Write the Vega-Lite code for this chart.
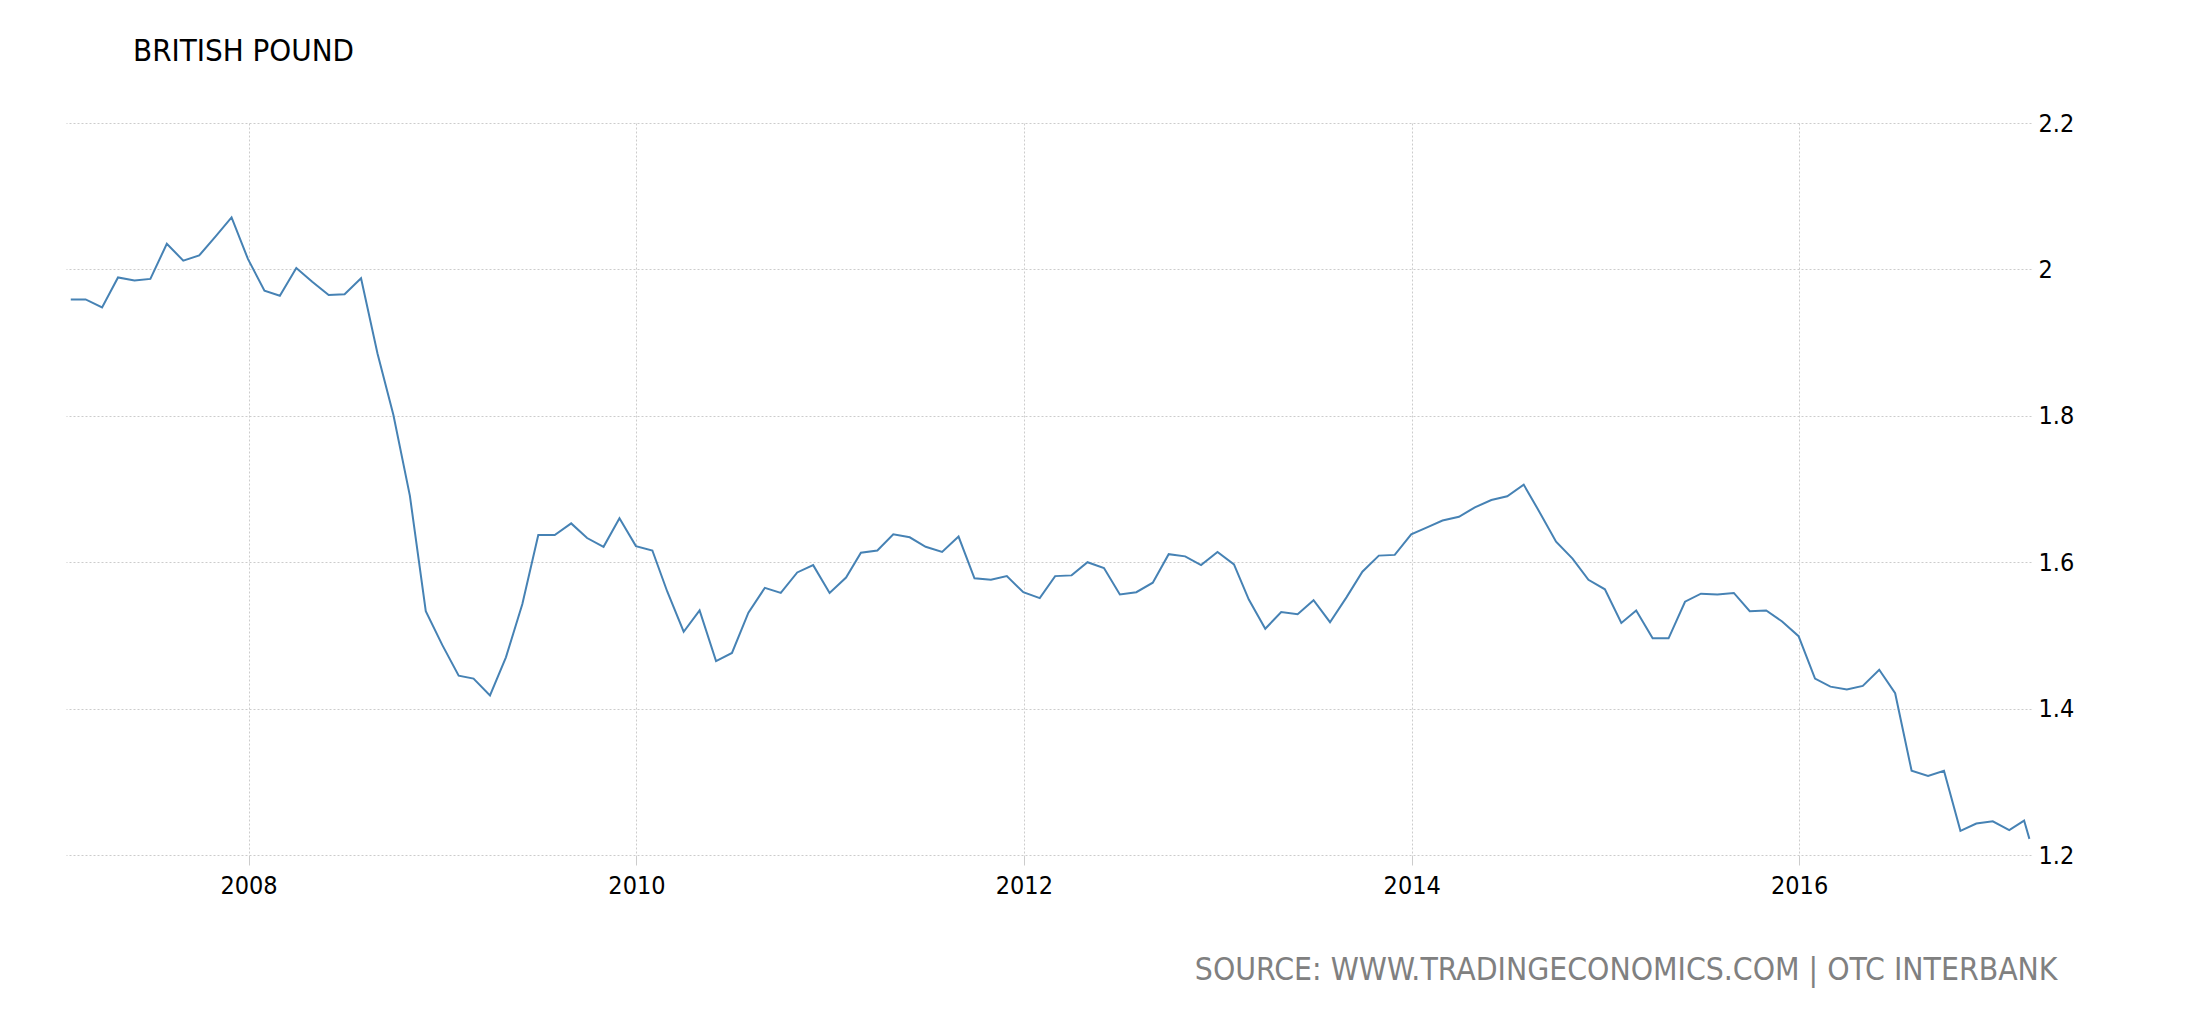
{
  "$schema": "https://vega.github.io/schema/vega-lite/v6.json",
  "autosize": {"type": "none"},
  "padding": {"left": 66, "top": 123, "right": 159, "bottom": 165},
  "width": 1965,
  "height": 732,
  "background": "white",
  "title": {
    "text": "BRITISH POUND",
    "anchor": "start",
    "dx": 67,
    "offset": 19,
    "baseline": "alphabetic",
    "font": "DejaVu Sans Condensed, DejaVu Sans",
    "fontSize": 31,
    "fontWeight": "normal",
    "color": "#000000"
  },
  "config": {
    "view": {"stroke": null},
    "font": "DejaVu Sans Condensed, DejaVu Sans"
  },
  "data": {
    "values": [
      {"date": "2007-01-31", "value": 1.959},
      {"date": "2007-02-28", "value": 1.959},
      {"date": "2007-03-31", "value": 1.948},
      {"date": "2007-04-30", "value": 1.989},
      {"date": "2007-05-31", "value": 1.985},
      {"date": "2007-06-30", "value": 1.987},
      {"date": "2007-07-31", "value": 2.035},
      {"date": "2007-08-31", "value": 2.012},
      {"date": "2007-09-30", "value": 2.019},
      {"date": "2007-10-31", "value": 2.045},
      {"date": "2007-11-30", "value": 2.071},
      {"date": "2007-12-31", "value": 2.014},
      {"date": "2008-01-31", "value": 1.971},
      {"date": "2008-02-29", "value": 1.964},
      {"date": "2008-03-31", "value": 2.002},
      {"date": "2008-04-30", "value": 1.983},
      {"date": "2008-05-31", "value": 1.965},
      {"date": "2008-06-30", "value": 1.966},
      {"date": "2008-07-31", "value": 1.988},
      {"date": "2008-08-31", "value": 1.885},
      {"date": "2008-09-30", "value": 1.801},
      {"date": "2008-10-31", "value": 1.691},
      {"date": "2008-11-30", "value": 1.533},
      {"date": "2008-12-31", "value": 1.487},
      {"date": "2009-01-31", "value": 1.445},
      {"date": "2009-02-28", "value": 1.441},
      {"date": "2009-03-31", "value": 1.418},
      {"date": "2009-04-30", "value": 1.470},
      {"date": "2009-05-31", "value": 1.543},
      {"date": "2009-06-30", "value": 1.637},
      {"date": "2009-07-31", "value": 1.637},
      {"date": "2009-08-31", "value": 1.653},
      {"date": "2009-09-30", "value": 1.633},
      {"date": "2009-10-31", "value": 1.621},
      {"date": "2009-11-30", "value": 1.660},
      {"date": "2009-12-31", "value": 1.622},
      {"date": "2010-01-31", "value": 1.616},
      {"date": "2010-02-28", "value": 1.560},
      {"date": "2010-03-31", "value": 1.505},
      {"date": "2010-04-30", "value": 1.534},
      {"date": "2010-05-31", "value": 1.465},
      {"date": "2010-06-30", "value": 1.476},
      {"date": "2010-07-31", "value": 1.531},
      {"date": "2010-08-31", "value": 1.565},
      {"date": "2010-09-30", "value": 1.558},
      {"date": "2010-10-31", "value": 1.586},
      {"date": "2010-11-30", "value": 1.596},
      {"date": "2010-12-31", "value": 1.558},
      {"date": "2011-01-31", "value": 1.579},
      {"date": "2011-02-28", "value": 1.613},
      {"date": "2011-03-31", "value": 1.616},
      {"date": "2011-04-30", "value": 1.638},
      {"date": "2011-05-31", "value": 1.634},
      {"date": "2011-06-30", "value": 1.621},
      {"date": "2011-07-31", "value": 1.614},
      {"date": "2011-08-31", "value": 1.635},
      {"date": "2011-09-30", "value": 1.578},
      {"date": "2011-10-31", "value": 1.576},
      {"date": "2011-11-30", "value": 1.581},
      {"date": "2011-12-31", "value": 1.559},
      {"date": "2012-01-31", "value": 1.551},
      {"date": "2012-02-29", "value": 1.581},
      {"date": "2012-03-31", "value": 1.582},
      {"date": "2012-04-30", "value": 1.600},
      {"date": "2012-05-31", "value": 1.592},
      {"date": "2012-06-30", "value": 1.556},
      {"date": "2012-07-31", "value": 1.559},
      {"date": "2012-08-31", "value": 1.572},
      {"date": "2012-09-30", "value": 1.611},
      {"date": "2012-10-31", "value": 1.608},
      {"date": "2012-11-30", "value": 1.596},
      {"date": "2012-12-31", "value": 1.614},
      {"date": "2013-01-31", "value": 1.597},
      {"date": "2013-02-28", "value": 1.549},
      {"date": "2013-03-31", "value": 1.509},
      {"date": "2013-04-30", "value": 1.532},
      {"date": "2013-05-31", "value": 1.529},
      {"date": "2013-06-30", "value": 1.548},
      {"date": "2013-07-31", "value": 1.518},
      {"date": "2013-08-31", "value": 1.552},
      {"date": "2013-09-30", "value": 1.587},
      {"date": "2013-10-31", "value": 1.609},
      {"date": "2013-11-30", "value": 1.610},
      {"date": "2013-12-31", "value": 1.638},
      {"date": "2014-01-31", "value": 1.648},
      {"date": "2014-02-28", "value": 1.657},
      {"date": "2014-03-31", "value": 1.662},
      {"date": "2014-04-30", "value": 1.675},
      {"date": "2014-05-31", "value": 1.685},
      {"date": "2014-06-30", "value": 1.690},
      {"date": "2014-07-31", "value": 1.706},
      {"date": "2014-08-31", "value": 1.667},
      {"date": "2014-09-30", "value": 1.628},
      {"date": "2014-10-31", "value": 1.605},
      {"date": "2014-11-30", "value": 1.576},
      {"date": "2014-12-31", "value": 1.563},
      {"date": "2015-01-31", "value": 1.517},
      {"date": "2015-02-28", "value": 1.534},
      {"date": "2015-03-31", "value": 1.496},
      {"date": "2015-04-30", "value": 1.496},
      {"date": "2015-05-31", "value": 1.546},
      {"date": "2015-06-30", "value": 1.557},
      {"date": "2015-07-31", "value": 1.556},
      {"date": "2015-08-31", "value": 1.558},
      {"date": "2015-09-30", "value": 1.533},
      {"date": "2015-10-31", "value": 1.534},
      {"date": "2015-11-30", "value": 1.519},
      {"date": "2015-12-31", "value": 1.499},
      {"date": "2016-01-31", "value": 1.441},
      {"date": "2016-02-29", "value": 1.430},
      {"date": "2016-03-31", "value": 1.426},
      {"date": "2016-04-30", "value": 1.431},
      {"date": "2016-05-31", "value": 1.453},
      {"date": "2016-06-30", "value": 1.421},
      {"date": "2016-07-31", "value": 1.315},
      {"date": "2016-08-31", "value": 1.308},
      {"date": "2016-09-30", "value": 1.315},
      {"date": "2016-10-31", "value": 1.233},
      {"date": "2016-11-30", "value": 1.243},
      {"date": "2016-12-31", "value": 1.246},
      {"date": "2017-01-31", "value": 1.234},
      {"date": "2017-02-28", "value": 1.247},
      {"date": "2017-03-10", "value": 1.222}
    ]
  },
  "mark": {"type": "line", "color": "#4682b4", "strokeWidth": 2, "clip": true},
  "encoding": {
    "x": {
      "field": "date",
      "type": "temporal",
      "scale": {"domain": [{"year": 2007, "month": 1, "date": 22}, {"year": 2017, "month": 3, "date": 13}]},
      "axis": {
        "title": "SOURCE: WWW.TRADINGECONOMICS.COM | OTC INTERBANK",
        "titleFont": "DejaVu Sans Condensed, DejaVu Sans",
        "titleFontSize": 31.6,
        "titleFontWeight": "normal",
        "titleColor": "#808080",
        "titleAlign": "right",
        "titleAnchor": "end",
        "titleBaseline": "alphabetic",
        "titleX": 1991,
        "titleY": 124,
        "format": "%Y",
        "tickCount": {"interval": "year", "step": 2},
        "domain": false,
        "grid": true,
        "gridColor": "#cccccc",
        "gridDash": [2, 2],
        "gridWidth": 1,
        "ticks": true,
        "tickColor": "#cccccc",
        "tickSize": 10,
        "labelFont": "DejaVu Sans Condensed, DejaVu Sans",
        "labelFontSize": 25,
        "labelColor": "#000000",
        "labelPadding": 8
      }
    },
    "y": {
      "field": "value",
      "type": "quantitative",
      "scale": {"domain": [1.2, 2.2], "zero": false, "nice": false},
      "axis": {
        "title": null,
        "orient": "right",
        "values": [1.2, 1.4, 1.6, 1.8, 2.0, 2.2],
        "format": "~g",
        "domain": false,
        "ticks": false,
        "grid": true,
        "gridColor": "#cccccc",
        "gridDash": [2, 2],
        "gridWidth": 1,
        "labelFont": "DejaVu Sans Condensed, DejaVu Sans",
        "labelFontSize": 25,
        "labelColor": "#000000",
        "labelPadding": 7
      }
    }
  }
}
